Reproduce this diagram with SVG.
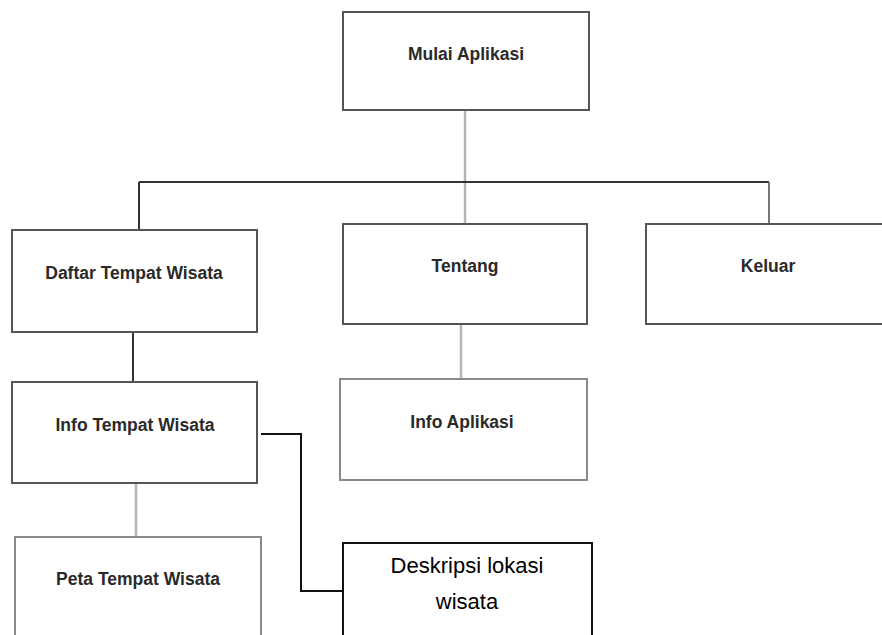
<svg xmlns="http://www.w3.org/2000/svg" width="882" height="635" viewBox="0 0 882 635">
  <style>
    .box { fill: #ffffff; stroke: #555555; stroke-width: 2; }
    .box-light { fill: #ffffff; stroke: #8a8a8a; stroke-width: 2; }
    .box-dark { fill: #ffffff; stroke: #111111; stroke-width: 2; }
    .lbl { font-family: "Liberation Sans", Arial, sans-serif; font-weight: bold; font-size: 17.5px; fill: #2a2a2a; text-anchor: middle; }
    .lbl-big { font-family: "Liberation Sans", Arial, sans-serif; font-size: 22px; fill: #000000; text-anchor: middle; }
    .ln-dark { stroke: #333333; stroke-width: 2; fill: none; }
    .ln-mid { stroke: #777777; stroke-width: 2; fill: none; }
    .ln-light { stroke: #b5b5b5; stroke-width: 2.5; fill: none; }
    .ln-black { stroke: #111111; stroke-width: 2; fill: none; }
  </style>

  <!-- connectors -->
  <g id="connectors">
    <line class="ln-light" x1="465" y1="110" x2="465" y2="224"/>
    <line class="ln-dark" x1="139" y1="182" x2="769" y2="182"/>
    <line class="ln-dark" x1="139" y1="182" x2="139" y2="230"/>
    <line class="ln-mid" x1="769" y1="182" x2="769" y2="224"/>
    <line class="ln-dark" x1="133" y1="332" x2="133" y2="382"/>
    <line class="ln-light" x1="461" y1="324" x2="461" y2="379"/>
    <line class="ln-light" x1="136" y1="483" x2="136" y2="537"/>
    <polyline class="ln-black" points="261,434 301,434 301,591 343,591"/>
  </g>

  <g id="mulai-aplikasi">
    <rect class="box" x="343" y="12" width="246" height="98"/>
    <text class="lbl" x="466" y="60">Mulai Aplikasi</text>
  </g>

  <g id="daftar-tempat-wisata">
    <rect class="box" x="12" y="230" width="245" height="102"/>
    <text class="lbl" x="134" y="279">Daftar Tempat Wisata</text>
  </g>

  <g id="tentang">
    <rect class="box" x="343" y="224" width="244" height="100"/>
    <text class="lbl" x="465" y="272">Tentang</text>
  </g>

  <g id="keluar">
    <rect class="box" x="646" y="224" width="246" height="100"/>
    <text class="lbl" x="768" y="272">Keluar</text>
  </g>

  <g id="info-tempat-wisata">
    <rect class="box" x="12" y="382" width="245" height="101"/>
    <text class="lbl" x="135" y="431">Info Tempat Wisata</text>
  </g>

  <g id="info-aplikasi">
    <rect class="box-light" x="340" y="379" width="247" height="101"/>
    <text class="lbl" x="462" y="428">Info Aplikasi</text>
  </g>

  <g id="peta-tempat-wisata">
    <rect class="box-light" x="15" y="537" width="246" height="110"/>
    <text class="lbl" x="138" y="585">Peta Tempat Wisata</text>
  </g>

  <g id="deskripsi-lokasi-wisata">
    <rect class="box-dark" x="343" y="543" width="249" height="110"/>
    <text class="lbl-big" x="467" y="573">Deskripsi lokasi</text>
    <text class="lbl-big" x="467" y="609">wisata</text>
  </g>
</svg>
